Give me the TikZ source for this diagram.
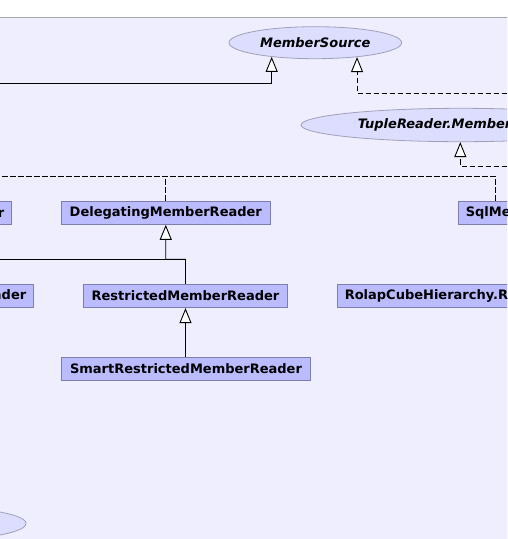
\documentclass[tikz,border=0pt]{standalone}
\usepackage{fontspec}
\setmainfont{DejaVu Sans}
\usetikzlibrary{arrows.meta,shapes.geometric}
\definecolor{bgcol}{RGB}{238,238,255}
\definecolor{bgline}{RGB}{165,165,180}
\definecolor{boxfill}{RGB}{187,187,255}
\definecolor{boxline}{RGB}{125,125,175}
\definecolor{ellfill}{RGB}{221,221,255}
\definecolor{ellline}{RGB}{160,160,185}
\tikzset{
  x=1pt, y=-1pt,
  cls/.style={rectangle, draw=boxline, fill=boxfill, line width=0.9pt,
    minimum height=23.3pt, inner xsep=7pt, inner ysep=0pt,
    font=\fontsize{13}{15}\selectfont\bfseries},
  iface/.style={ellipse, draw=ellline, fill=ellfill, line width=0.8pt, inner sep=0pt,
    font=\fontsize{13}{15}\selectfont\bfseries\itshape},
  edge/.style={line width=0.9pt, black},
  inh/.style={edge, -{Triangle[length=15pt,width=12pt,fill=white]}},
  impl/.style={inh, dash pattern=on 5.5pt off 2.5pt},
  impline/.style={edge, dash pattern=on 5.5pt off 2.5pt},
}
\begin{document}
\begin{tikzpicture}
\useasboundingbox (0,0) rectangle (507,539);
\clip (0,0) rectangle (507,539);
\fill[white] (0,0) rectangle (507,539);
\draw[fill=bgcol, draw=bgline, line width=0.9pt] (-10,17) rectangle (520,560);

% interfaces
\node[iface, minimum width=172.7pt, minimum height=32pt] (ms) at (315.3,42.7) {MemberSource};
\node[iface, minimum width=320pt, minimum height=33.4pt] (tr) at (461,125) {TupleReader.MemberBuilder};
\node[iface, minimum width=172pt, minimum height=32pt] (bl) at (-60,523.5) {};

% classes
\node[cls, anchor=east] (cmr) at (11.7,212.7) {CacheMemberReader};
\node[cls, minimum width=209pt] (dmr) at (165.8,212.7) {DelegatingMemberReader};
\node[cls, anchor=west] (sms) at (458.3,212.7) {SqlMemberSource};
\node[cls, anchor=east] (sub) at (33.7,296) {SubstitutingMemberReader};
\node[cls, minimum width=204.4pt] (rmr) at (185.5,296) {RestrictedMemberReader};
\node[cls, anchor=west] (rch) at (337.3,296) {RolapCubeHierarchy.RolapCubeSqlMemberSource};
\node[cls, minimum width=249.4pt] (srmr) at (186,369) {SmartRestrictedMemberReader};

% connector ends outside the view
\coordinate (e1) at (0,83.3);
\coordinate (e2) at (507,93.3);
\coordinate (e3) at (507,166);
\coordinate (e4) at (0,176.7);
\coordinate (e5) at (0,259.3);
\coordinate (j1) at (165.7,259.3);

% connectors
\draw[inh] (e1) -| (ms.198.1);
\draw[impl] (e2) -| (ms.341.9);
\draw[impl] (e3) -| ([xshift=-0.7pt]tr.south);
\draw[impline] ([xshift=37.4pt]sms.north west) |- (e4);
\draw[impline] (dmr.north) -- (dmr.north |- e4);
\draw[inh] (rmr.north) |- (j1) -- (dmr.south);
\draw[edge] (e5) -- (j1);
\draw[inh] (srmr.north -| rmr.south) -- (rmr.south);
\end{tikzpicture}
\end{document}
